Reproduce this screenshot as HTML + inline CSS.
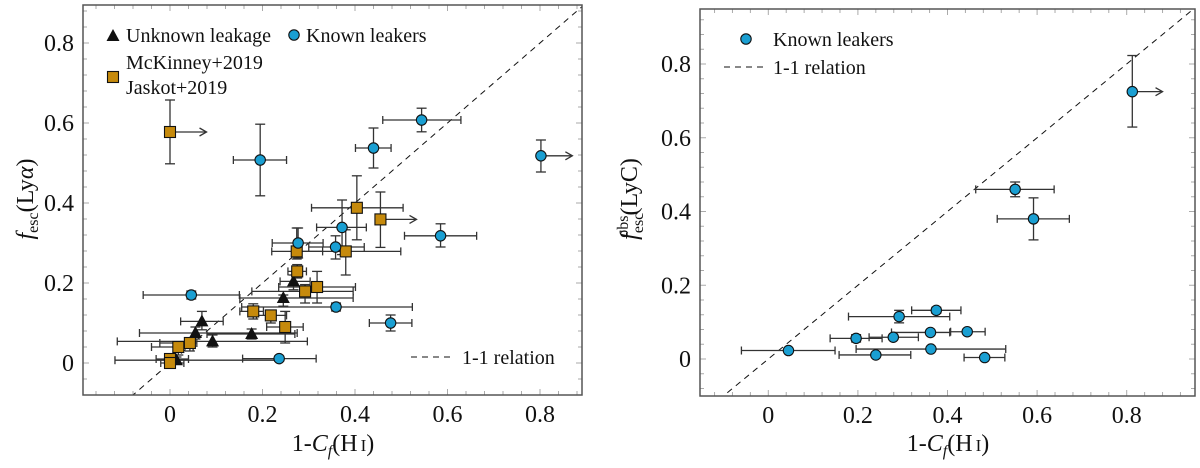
<!DOCTYPE html>
<html><head><meta charset="utf-8"><style>
html,body{margin:0;padding:0;background:#fff;}
svg{display:block;font-family:"Liberation Serif",serif;}
</style></head><body>
<svg id="chart" width="1200" height="468" viewBox="0 0 1200 468" xmlns="http://www.w3.org/2000/svg"></svg>
<script>
// ---- Left panel data ----
const knownX=[0.544,0.44,0.195,0.802,0.585,0.372,0.277,0.358,0.046,0.359,0.477,0.236];
const knownY=[0.6075,0.5375,0.5075,0.518,0.318,0.339,0.30,0.29,0.17,0.14,0.10,0.011];
const knownXlo=[0.46,0.401,0.137,null,0.507,0.317,0.221,0.30,-0.058,0.155,0.431,0.157];
const knownXhi=[0.629,0.478,0.252,0.87,0.663,0.4245,0.331,0.42,0.15,0.524,0.523,0.316];
const knownYlo=[0.578,0.4875,0.418,0.4775,0.29,0.271,0.2625,0.26,0.16,0.13,0.08,0.005];
const knownYhi=[0.637,0.5875,0.597,0.5575,0.348,0.4075,0.3375,0.318,0.18,0.15,0.12,0.017];
const knownArrow=[false,false,false,true,false,false,false,false,false,false,false,false];

const mckX=[0,0.404,0.455,0.274,0.38,0.275,0.318,0.292,0.18,0.218,0.249,0.043,0.018,0,0];
const mckY=[0.5775,0.388,0.359,0.279,0.279,0.229,0.19,0.179,0.129,0.119,0.09,0.05,0.04,0.01,0.0];
const mckXlo=[null,0.306,null,0.22,0.274,0.255,0.235,0.177,0.151,0.187,0.209,-0.022,-0.04,-0.03,-0.02];
const mckXhi=[0.079,0.504,0.533,0.33,0.499,0.295,0.401,0.396,0.202,0.252,0.288,0.058,0.05,0.04,0.03];
const mckYlo=[0.498,0.308,0.289,0.26,0.22,0.2125,0.15,0.15,0.11,0.10,0.05,0.03,0.02,0,-0.01];
const mckYhi=[0.6575,0.468,0.4275,0.3375,0.333,0.246,0.229,0.196,0.148,0.13,0.129,0.06,0.05,0.02,0.01];
const mckArrow=[true,false,true,false,false,false,false,false,false,false,false,false,false,false,false];

const unkX=[0.267,0.245,0.069,0.055,0.092,0.1765,0.014];
const unkY=[0.204,0.1625,0.104,0.075,0.054,0.0725,0.007];
const unkXlo=[0.238,0.151,0.023,-0.066,-0.114,0.08,-0.119];
const unkXhi=[0.303,0.396,0.115,0.275,0.297,0.27,0.2378];
const unkYlo=[0.183,0.142,0.083,0.06,0.04,0.06,0.0];
const unkYhi=[0.22,0.17,0.129,0.09,0.07,0.085,0.015];

// ---- Right panel data ----
const lycX=[0.045,0.24,0.196,0.279,0.292,0.375,0.362,0.444,0.363,0.483,0.551,0.592,0.8125];
const lycY=[0.023,0.011,0.056,0.059,0.115,0.132,0.072,0.074,0.027,0.004,0.46,0.38,0.725];
const lycXlo=[-0.06,0.158,0.138,0.225,0.179,0.32,0.275,0.407,0.196,0.437,0.463,0.511,null];
const lycXhi=[0.149,0.318,0.254,0.335,0.405,0.43,0.405,0.484,0.53,0.528,0.638,0.672,0.88];
const lycYlo=[null,null,0.046,null,0.098,0.124,null,null,null,null,0.44,0.323,0.629];
const lycYhi=[null,null,0.066,null,0.132,0.14,null,null,null,null,0.48,0.437,0.823];
const lycArrow=[false,false,false,false,false,false,false,false,false,false,false,false,true];

const xTicks=[0,0.2,0.4,0.6,0.8];
const xTickLabels=["0","0.2","0.4","0.6","0.8"];
const yTicks=[0,0.2,0.4,0.6,0.8];
const yTickLabels=["0","0.2","0.4","0.6","0.8"];

const NS="http://www.w3.org/2000/svg";
const svg=document.getElementById('chart');
function mk(tag,attrs,parent){const e=document.createElementNS(NS,tag);for(const k in attrs)e.setAttribute(k,attrs[k]);(parent||svg).appendChild(e);return e;}

function panel(cfg){
  const g=mk('g',{});
  
  
  const sx=v=>cfg.x0+(v-cfg.xmin)*(cfg.x1-cfg.x0)/(cfg.xmax-cfg.xmin);
  const sy=v=>cfg.y1-(v-cfg.ymin)*(cfg.y1-cfg.y0)/(cfg.ymax-cfg.ymin);
  cfg.sx=sx;cfg.sy=sy;cfg.g=g;
  const tg=mk('g',{stroke:'#aaa','stroke-width':1},g);
  
  
  for(let v=-0.2;v<=1.0001;v+=0.04){
    const X=sx(v); if(X>cfg.x0+1&&X<cfg.x1-1){const L=Math.abs(Math.round(v*100)%20)===0?6:4;
      mk('line',{x1:X,x2:X,y1:cfg.y1,y2:cfg.y1-L},tg);mk('line',{x1:X,x2:X,y1:cfg.y0,y2:cfg.y0+L},tg);}
    const Y=sy(v); if(Y>cfg.y0+1&&Y<cfg.y1-1){const L=Math.abs(Math.round(v*100)%20)===0?6:4;
      mk('line',{x1:cfg.x0,x2:cfg.x0+L,y1:Y,y2:Y},tg);mk('line',{x1:cfg.x1,x2:cfg.x1-L,y1:Y,y2:Y},tg);}
  }
  xTicks.forEach((v,i)=>{const t=mk('text',{x:sx(v),y:cfg.y1+27,'text-anchor':'middle','font-size':24,fill:'#111'},g);t.textContent=xTickLabels[i];
    });
  yTicks.forEach((v,i)=>{const t=mk('text',{x:cfg.x0-9,y:sy(v)+8,'text-anchor':'end','font-size':24,fill:'#111'},g);t.textContent=yTickLabels[i];
    });
  const clipId='clip'+cfg.name;
  const cp=mk('clipPath',{id:clipId},g);mk('rect',{x:cfg.x0,y:cfg.y0,width:cfg.x1-cfg.x0,height:cfg.y1-cfg.y0},cp);
  const d=mk('line',{x1:sx(-0.3),y1:sy(-0.3),x2:sx(1.2),y2:sy(1.2),stroke:'#111','stroke-width':1,'stroke-dasharray':'6,5','clip-path':`url(#${clipId})`},g);
  
  const f=mk('rect',{x:cfg.x0,y:cfg.y0,width:cfg.x1-cfg.x0,height:cfg.y1-cfg.y0,fill:'none',stroke:'#555','stroke-width':1.5},g);
  
  return cfg;
}

function errs(cfg,X,Y,xlo,xhi,ylo,yhi,arrow,name){
  const g=mk('g',{stroke:'#333','stroke-width':1.3,fill:'none'},cfg.g);
  
  
  X.forEach((x,i)=>{
    const px=cfg.sx(x),py=cfg.sy(Y[i]);
    if(arrow&&arrow[i]){const ex=cfg.sx(xhi[i]);mk('line',{x1:px,y1:py,x2:ex,y2:py},g);mk('path',{d:`M${ex-7},${py-4} L${ex},${py} L${ex-7},${py+4}`},g);
      if(xlo[i]!=null){const lx=cfg.sx(xlo[i]);mk('line',{x1:lx,y1:py,x2:px,y2:py},g);mk('line',{x1:lx,y1:py-4,x2:lx,y2:py+4},g);}}
    else if(xlo[i]!=null){const lx=cfg.sx(xlo[i]),hx=cfg.sx(xhi[i]);mk('line',{x1:lx,y1:py,x2:hx,y2:py},g);
      mk('line',{x1:lx,y1:py-4,x2:lx,y2:py+4},g);mk('line',{x1:hx,y1:py-4,x2:hx,y2:py+4},g);}
    if(ylo&&ylo[i]!=null){const ly=cfg.sy(ylo[i]),hy=cfg.sy(yhi[i]);mk('line',{x1:px,y1:ly,x2:px,y2:hy},g);
      mk('line',{x1:px-5,y1:ly,x2:px+5,y2:ly},g);mk('line',{x1:px-5,y1:hy,x2:px+5,y2:hy},g);}
  });
}
function circ(parent,x,y){return mk('circle',{cx:x,cy:y,r:5.2,fill:'#1a9fd2',stroke:'#111','stroke-width':1.1},parent);}
function sq(parent,x,y){return mk('rect',{x:x-5.5,y:y-5.5,width:11,height:11,fill:'#c68a0c',stroke:'#111','stroke-width':1.1},parent);}
function tri(parent,x,y){return mk('path',{d:`M${x},${y-7} L${x+6.5},${y+5} L${x-6.5},${y+5} Z`,fill:'#111'},parent);}

const L=panel({name:'left-panel',x0:83,x1:582,y0:5,y1:395,xmin:(83-170)/462.5,xmax:(582-170)/462.5,ymin:(363-395)/400,ymax:(363-5)/400});
errs(L,unkX,unkY,unkXlo,unkXhi,unkYlo,unkYhi,null,'unknown-leakage');
errs(L,mckX,mckY,mckXlo,mckXhi,mckYlo,mckYhi,mckArrow,'mckinney-jaskot');
errs(L,knownX,knownY,knownXlo,knownXhi,knownYlo,knownYhi,knownArrow,'known-leakers');
unkX.forEach((x,i)=>{const e=tri(L.g,L.sx(x),L.sy(unkY[i]));
  
  });
mckX.forEach((x,i)=>{const e=sq(L.g,L.sx(x),L.sy(mckY[i]));
  
  });
knownX.forEach((x,i)=>{const e=circ(L.g,L.sx(x),L.sy(knownY[i]));
  
  });

const R=panel({name:'right-panel',x0:700,x1:1195,y0:9,y1:396,xmin:(700-768.3)/448,xmax:(1195-768.3)/448,ymin:(359-396)/368.75,ymax:(359-9)/368.75});
errs(R,lycX,lycY,lycXlo,lycXhi,lycYlo,lycYhi,lycArrow,'lyc-known-leakers');
lycX.forEach((x,i)=>{const e=circ(R.g,R.sx(x),R.sy(lycY[i]));
  
  });

(function(){
const items=[
 ['legend-unknown-leakage',()=>tri(svg,113,36),'Unknown leakage',126,42],
 ['legend-known-leakers',()=>circ(svg,294,35),'Known leakers',306,42],
 ['legend-mckinney',()=>sq(svg,113,77),'McKinney+2019',126,69],
 ['legend-jaskot',null,'Jaskot+2019',126,94],
 ['legend-right-known-leakers',()=>circ(svg,746,39),'Known leakers',773,46]
];
items.forEach(it=>{if(it[1])it[1]();const t=mk('text',{x:it[3],y:it[4],'font-size':20,fill:'#111'});t.textContent=it[2];
 
 });
mk('line',{x1:411,x2:451,y1:357,y2:357,stroke:'#111','stroke-dasharray':'6,5'});
const t1=mk('text',{x:462,y:364,'font-size':20,fill:'#111'});t1.textContent='1-1 relation';


mk('line',{x1:724,x2:764,y1:67,y2:67,stroke:'#111','stroke-dasharray':'6,5'});
const t2=mk('text',{x:773,y:74,'font-size':20,fill:'#111'});t2.textContent='1-1 relation';


[[333,'x-axis-title-left'],[948,'x-axis-title-right']].forEach(p=>{
 const t=mk('text',{x:p[0],y:451,'text-anchor':'middle','font-size':24,fill:'#111'});
 t.innerHTML='1-<tspan font-style="italic">C</tspan><tspan font-size="16" dy="5" font-style="italic">f</tspan><tspan dy="-5">(H</tspan><tspan font-size="17" dx="3">I</tspan>)';
 
 });
const y1=mk('text',{x:0,y:0,'text-anchor':'middle','font-size':24,fill:'#111',transform:'translate(33,199) rotate(-90)'});
y1.innerHTML='<tspan font-style="italic">f</tspan><tspan font-size="16" dy="5">esc</tspan><tspan dy="-5">(Ly</tspan><tspan font-style="italic">α</tspan>)';


const y2=mk('text',{x:0,y:0,'text-anchor':'middle','font-size':24,fill:'#111',transform:'translate(637,199) rotate(-90)'});
y2.innerHTML='<tspan font-style="italic">f</tspan><tspan font-size="16" dy="6">esc</tspan><tspan font-size="16" dx="-25" dy="-15">obs</tspan><tspan dy="9">(LyC)</tspan>';


})();
</script>
</body></html>
